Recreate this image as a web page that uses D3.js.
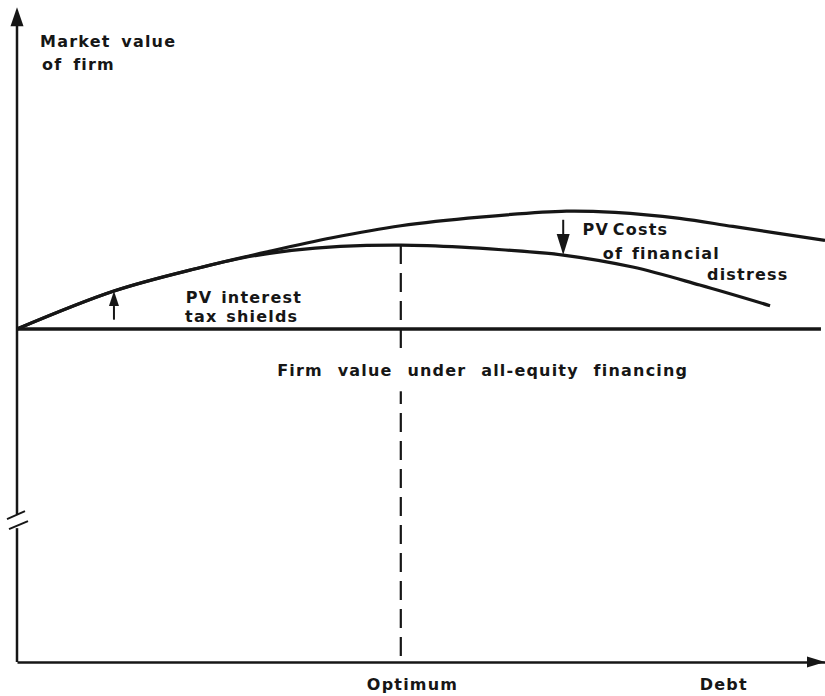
<!DOCTYPE html>
<html>
<head>
<meta charset="utf-8">
<script src="https://cdn.jsdelivr.net/npm/d3@7"></script>
<style>
  html, body { margin: 0; padding: 0; background: #fff; }
  svg { display: block; }
  text { font-family: "DejaVu Sans", sans-serif; font-weight: bold; font-size: 16px; fill: #161616; letter-spacing: 1.2px; }
</style>
</head>
<body>
<script>
// ---- data ----
const upperDebt   = [0, 12, 22.6, 31, 39, 47.5, 57.3, 68, 74, 82, 88.6, 100];
const upperValue  = [50, 55.7, 59.2, 61.6, 63.7, 65.5, 66.8, 67.7, 67.5, 66.6, 65.4, 63.3];
const lowerDebt   = [0, 12, 22.6, 28, 34, 40, 47.5, 55, 60, 67.6, 76.2, 84.5, 93.2];
const lowerValue  = [50, 55.7, 59.2, 60.7, 61.8, 62.4, 62.6, 62.3, 61.9, 61.1, 59.3, 56.6, 53.5];
const allEquityValue = 50;
const optimumDebt = 47.5;
const optimumValue = 62.6;
const baselineEnd = 99.5;
const axisTopValue = 98.3;
const axisBreakValue = 21.3;
const labels = [
  {text: "Market value", x: 2.85, y: 92.3, ws: 4},
  {text: "of firm", x: 3.1, y: 88.9, ws: 4},
  {text: "PV interest", x: 20.9, y: 53.9, ws: 2},
  {text: "tax shields", x: 20.8, y: 51.1, ws: 2},
  {text: "PV Costs", x: 70.0, y: 64.1, ws: -3},
  {text: "of financial", x: 72.5, y: 60.5, ws: 2},
  {text: "distress", x: 85.4, y: 57.4, ws: 0},
  {text: "Optimum", x: 43.3, y: -4.2, ws: 0},
  {text: "Debt", x: 84.5, y: -4.2, ws: 0},
  {text: "Firm value under all-equity financing", x: 32.2, y: 42.9, ws: 8, knockout: true}
];
const upArrow = {x: 12, from: 51.4, to: 55.7};
const downArrow = {x: 67.6, from: 66.4, to: 61.1};

// ---- setup ----
const W = 825, H = 696;
const x = d3.scaleLinear().domain([0, 100]).range([17, 825]);
const y = d3.scaleLinear().domain([0, 100]).range([662, -4]);
const ink = "#161616";

const svg = d3.select("body").append("svg").attr("width", W).attr("height", H);
svg.append("rect").attr("width", W).attr("height", H).attr("fill", "#fff");

// x axis
const xAxis = svg.append("g").attr("transform", `translate(0,${y(0)})`)
  .call(d3.axisBottom(x).ticks(0).tickSizeOuter(0));
xAxis.select(".domain").attr("stroke", ink).attr("stroke-width", 2.5);
const xe = x(100), ya = y(0);
svg.append("path").attr("d", `M${xe},${ya} L${xe-18},${ya-5.5} L${xe-18},${ya+5.5} Z`).attr("fill", ink);

// y axis with break
const xa = x(0), yb = y(axisBreakValue);
svg.append("line").attr("x1", xa).attr("x2", xa).attr("y1", y(0)).attr("y2", yb + 8)
  .attr("stroke", ink).attr("stroke-width", 2.5);
svg.append("line").attr("x1", xa).attr("x2", xa).attr("y1", yb - 6).attr("y2", y(axisTopValue) + 10)
  .attr("stroke", ink).attr("stroke-width", 2.5);
svg.append("line").attr("x1", xa - 10).attr("y1", yb - 1).attr("x2", xa + 8).attr("y2", yb - 9)
  .attr("stroke", ink).attr("stroke-width", 2);
svg.append("line").attr("x1", xa - 8).attr("y1", yb + 9).attr("x2", xa + 11).attr("y2", yb + 1)
  .attr("stroke", ink).attr("stroke-width", 2);
const yt = y(axisTopValue);
svg.append("path").attr("d", `M${xa},${yt} L${xa-6.5},${yt+19} L${xa+6.5},${yt+19} Z`).attr("fill", ink);

// baseline (all-equity financing)
svg.append("line").attr("x1", x(0)).attr("x2", x(baselineEnd))
  .attr("y1", y(allEquityValue)).attr("y2", y(allEquityValue))
  .attr("stroke", ink).attr("stroke-width", 3.5);

// dashed optimum line
svg.append("line").attr("x1", x(optimumDebt)).attr("x2", x(optimumDebt))
  .attr("y1", y(optimumValue)).attr("y2", y(0))
  .attr("stroke", ink).attr("stroke-width", 2.2).attr("stroke-dasharray", "19 9");

// curves
const line = d3.line().x(d => x(d[0])).y(d => y(d[1])).curve(d3.curveCatmullRom.alpha(0.5));
const upper = upperDebt.map((d, i) => [d, upperValue[i]]);
const lower = lowerDebt.map((d, i) => [d, lowerValue[i]]);
svg.append("path").attr("d", line(upper)).attr("fill", "none").attr("stroke", ink).attr("stroke-width", 3.2);
svg.append("path").attr("d", line(lower)).attr("fill", "none").attr("stroke", ink).attr("stroke-width", 3.2);

// arrows
function arrow(a, headLen, halfW) {
  const ax = x(a.x), y1 = y(a.from), y2 = y(a.to);
  const dir = y2 < y1 ? 1 : -1;
  const baseY = y2 + dir * headLen;
  svg.append("line").attr("x1", ax).attr("x2", ax).attr("y1", y1).attr("y2", baseY)
    .attr("stroke", ink).attr("stroke-width", 2);
  svg.append("path").attr("d", `M${ax},${y2} L${ax-halfW},${baseY} L${ax+halfW},${baseY} Z`).attr("fill", ink);
}
arrow(upArrow, 15, 5);
arrow(downArrow, 21, 6.5);

// labels
labels.forEach(d => {
  const g = svg.append("g");
  const t = g.append("text").attr("x", x(d.x)).attr("y", y(d.y))
    .style("word-spacing", d.ws + "px").text(d.text);
  if (d.knockout) {
    const bb = t.node().getBBox();
    g.insert("rect", "text").attr("x", bb.x - 4).attr("y", bb.y - 7)
      .attr("width", bb.width + 8).attr("height", bb.height + 18).attr("fill", "#fff");
  }
});
</script>
</body>
</html>
